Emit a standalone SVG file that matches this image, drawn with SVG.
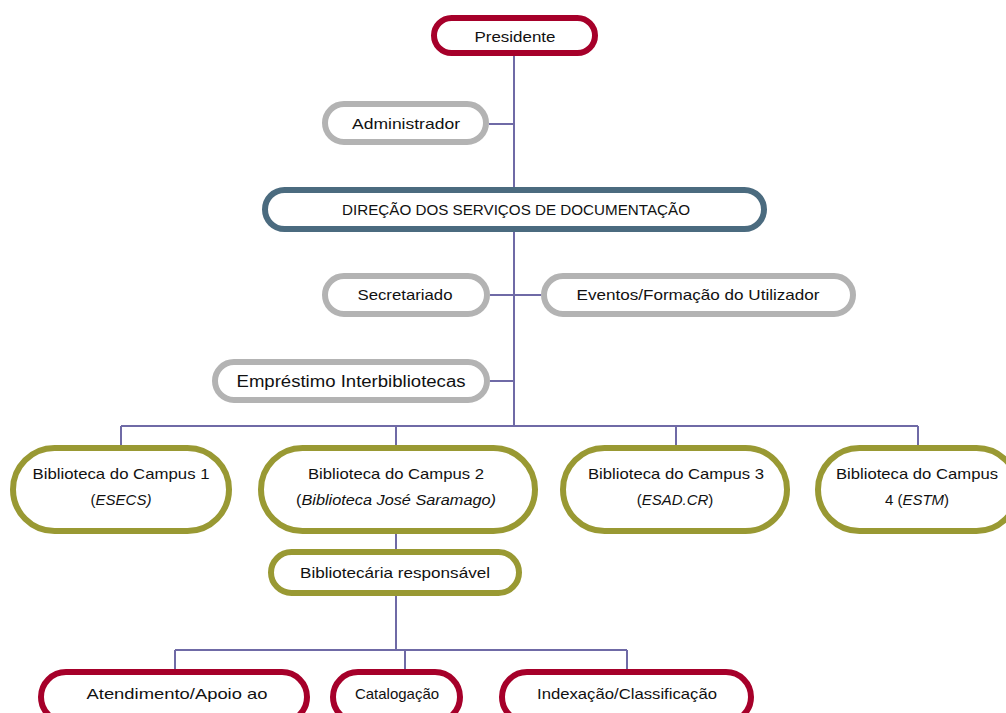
<svg xmlns="http://www.w3.org/2000/svg" width="1006" height="713" viewBox="0 0 1006 713">
<style>
.box{fill:#fff;stroke-width:6}
.red{stroke:#a6002a}
.gray{stroke:#b3b3b3}
.slate{stroke:#4b6b7f}
.olive{stroke:#999933}
.t{font-family:"Liberation Sans",Arial,sans-serif;font-size:15px;fill:#111;text-anchor:middle}
.a{font-family:"Liberation Sans",Arial,sans-serif;font-size:16px;fill:#111;text-anchor:middle}
.i{font-style:italic}
.conn{fill:none;stroke:#6f6aa6;stroke-width:2}
</style>
<g id="connectors" class="conn">
<path d="M514 56V426"/>
<path d="M489 124H514"/>
<path d="M490 295H541"/>
<path d="M490 381H514"/>
<path d="M121 426H918M121 426V446M396 426V446M676 426V446M918 426V446"/>
<path d="M396 533V550"/>
<path d="M396 595V650M175 650H627M175 650V670M405 650V670M627 650V670"/>
</g>
<g id="presidente"><rect class="box red" x="434" y="18" width="161" height="35" rx="17.5"/><text class="t" x="515" y="42" textLength="81" lengthAdjust="spacingAndGlyphs">Presidente</text></g>
<g id="administrador"><rect class="box gray" x="325" y="104" width="161" height="38" rx="19"/><text class="t" x="406" y="129" textLength="108" lengthAdjust="spacingAndGlyphs">Administrador</text></g>
<g id="direcao"><rect class="box slate" x="265" y="190" width="499" height="39" rx="19.5"/><text class="t" x="516" y="215" textLength="348" lengthAdjust="spacingAndGlyphs">DIREÇÃO DOS SERVIÇOS DE DOCUMENTAÇÃO</text></g>
<g id="secretariado"><rect class="box gray" x="325" y="276" width="162" height="38" rx="19"/><text class="t" x="405" y="300" textLength="95" lengthAdjust="spacingAndGlyphs">Secretariado</text></g>
<g id="eventos"><rect class="box gray" x="544" y="276" width="309" height="38" rx="19"/><text class="t" x="698" y="300" textLength="243" lengthAdjust="spacingAndGlyphs">Eventos/Formação do Utilizador</text></g>
<g id="emprestimo"><rect class="box gray" x="215" y="362" width="272" height="38" rx="19"/><text class="a" x="351" y="387" textLength="229" lengthAdjust="spacingAndGlyphs">Empréstimo Interbibliotecas</text></g>
<g id="campus1"><rect class="box olive" x="13" y="448" width="216" height="83" rx="41.5"/><text class="t" x="121" y="479" textLength="177" lengthAdjust="spacingAndGlyphs">Biblioteca do Campus 1</text><text class="t" x="121" y="505">(<tspan class="i">ESECS)</tspan></text></g>
<g id="campus2"><rect class="box olive" x="261" y="448" width="274" height="83" rx="41.5"/><text class="t" x="396" y="479" textLength="176" lengthAdjust="spacingAndGlyphs">Biblioteca do Campus 2</text><text class="t" x="396" y="505" textLength="200" lengthAdjust="spacingAndGlyphs">(<tspan class="i">Biblioteca José Saramago)</tspan></text></g>
<g id="campus3"><rect class="box olive" x="563" y="448" width="224" height="83" rx="41.5"/><text class="t" x="676" y="479" textLength="176" lengthAdjust="spacingAndGlyphs">Biblioteca do Campus 3</text><text class="t" x="675" y="505">(<tspan class="i">ESAD.CR</tspan>)</text></g>
<g id="campus4"><rect class="box olive" x="818" y="448" width="200" height="83" rx="41.5"/><text class="t" x="917" y="479" textLength="162" lengthAdjust="spacingAndGlyphs">Biblioteca do Campus</text><text class="t" x="917" y="505">4 (<tspan class="i">ESTM</tspan>)</text></g>
<g id="bibliotecaria"><rect class="box olive" x="271" y="552" width="248" height="41" rx="20.5"/><text class="t" x="395" y="578" textLength="190" lengthAdjust="spacingAndGlyphs">Bibliotecária responsável</text></g>
<g id="atendimento"><rect class="box red" x="41" y="672" width="266" height="50" rx="25"/><text class="t" x="177" y="699" textLength="181" lengthAdjust="spacingAndGlyphs">Atendimento/Apoio ao</text></g>
<g id="catalogacao"><rect class="box red" x="333" y="672" width="127" height="50" rx="25"/><text class="t" x="397" y="699">Catalogação</text></g>
<g id="indexacao"><rect class="box red" x="502" y="672" width="249" height="50" rx="25"/><text class="t" x="627" y="699" textLength="180" lengthAdjust="spacingAndGlyphs">Indexação/Classificação</text></g>
</svg>
